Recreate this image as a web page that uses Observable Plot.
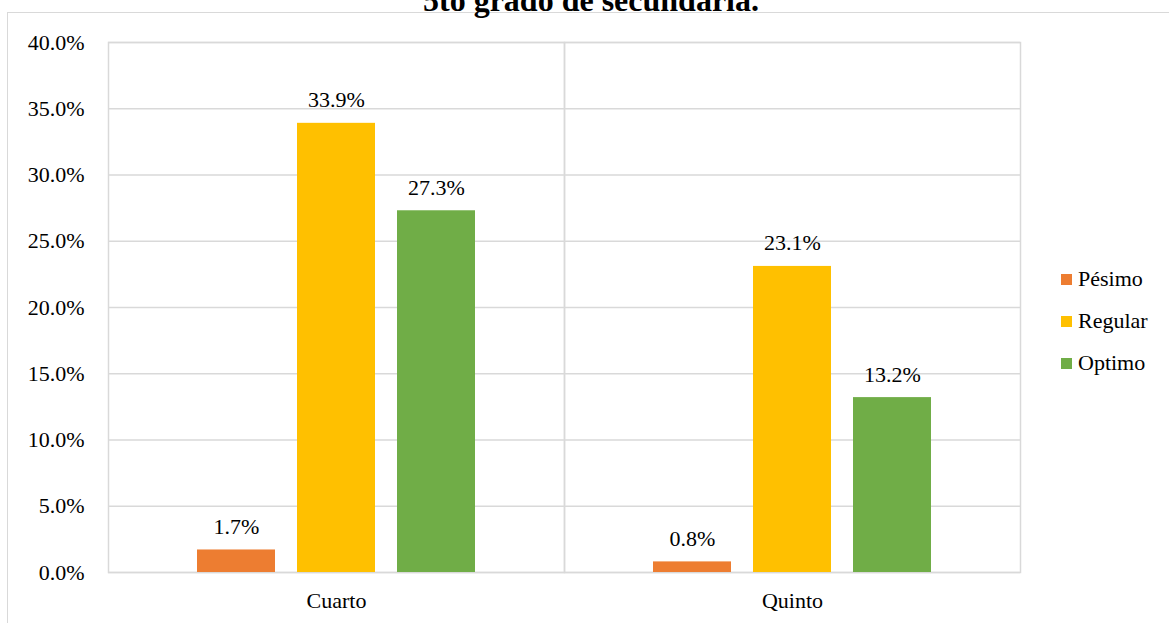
<!DOCTYPE html>
<html>
<head>
<meta charset="utf-8">
<script src="https://cdn.jsdelivr.net/npm/d3@7"></script>
<script src="https://cdn.jsdelivr.net/npm/@observablehq/plot@0.6"></script>
<style>
  html, body { margin: 0; padding: 0; background: #fff; overflow: hidden; }
  #wrap { position: relative; width: 1169px; height: 623px; overflow: hidden; font-family: "Liberation Serif", "Times New Roman", serif; }
  #box { position: absolute; left: 7px; top: 11.5px; width: 1300px; height: 800px; border: 1.5px solid #d9d9d9; box-sizing: border-box; }
  #title { position: absolute; left: 0; width: 1182px; top: -15px; text-align: center; font-weight: bold; font-size: 32px; line-height: 30px; color: #000; white-space: nowrap; }
  #chart { position: absolute; left: 0; top: 0; }
  #legend { position: absolute; left: 1061px; top: 258px; }
  .row { display: flex; align-items: center; height: 42px; font-size: 22px; color: #000; }
  .sw { width: 11px; height: 11px; margin-right: 6px; }
</style>
</head>
<body>
<div id="wrap">
  <div id="box"></div>
  <div id="title">5to grado de secundaria.</div>
  <div id="chart"></div>
  <div id="legend"></div>
</div>
<script>
const categories = ["Cuarto", "Quinto"];
const series = ["Pésimo", "Regular", "Optimo"];
const pesimo = [1.7, 0.8];
const regular = [33.9, 23.1];
const optimo = [27.3, 13.2];
const colors = ["#ED7D31", "#FFC000", "#70AD47"];
const yTicks = [0, 5, 10, 15, 20, 25, 30, 35, 40];

const valuesBySeries = [pesimo, regular, optimo];
const data = categories.flatMap((c, i) =>
  series.map((s, j) => ({ grado: c, nivel: s, valor: valuesBySeries[j][i] }))
);

const chart = Plot.plot({
  width: 1169,
  height: 623,
  marginLeft: 107,
  marginRight: 149,
  marginTop: 42,
  marginBottom: 51,
  style: { fontFamily: "'Liberation Serif', 'Times New Roman', serif", fontSize: "22px", color: "#000", background: "transparent", overflow: "visible" },
  fx: { domain: categories, padding: 0, label: null, tickSize: 0, tickPadding: 20, axis: "bottom" },
  x: { domain: series, paddingInner: 0.218, paddingOuter: 0.869, axis: null },
  y: { domain: [0, 40], ticks: yTicks, tickFormat: d => d.toFixed(1) + "%", tickSize: 0, tickPadding: 24, label: null },
  color: { domain: series, range: colors },
  marks: [
    Plot.ruleY(yTicks, { stroke: "#d9d9d9", strokeWidth: 1.5, strokeOpacity: 1 }),
    Plot.frame({ stroke: "#d9d9d9", strokeWidth: 1.5, strokeOpacity: 1 }),
    Plot.barY(data, { fx: "grado", x: "nivel", y: "valor", fill: "nivel" }),
    Plot.text(data, { fx: "grado", x: "nivel", y: "valor", text: d => d.valor.toFixed(1) + "%", dy: -23, lineAnchor: "middle", fontSize: 22, fill: "#000" })
  ]
});
document.getElementById("chart").appendChild(chart);

const legend = document.getElementById("legend");
series.forEach((s, j) => {
  const row = document.createElement("div");
  row.className = "row";
  const sw = document.createElement("div");
  sw.className = "sw";
  sw.style.background = colors[j];
  const t = document.createElement("span");
  t.textContent = s;
  row.appendChild(sw);
  row.appendChild(t);
  legend.appendChild(row);
});
</script>
</body>
</html>
